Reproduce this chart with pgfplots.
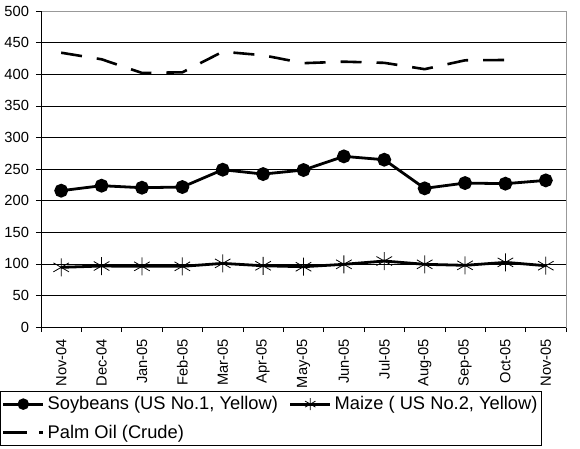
\documentclass[border=0pt]{standalone}
\usepackage{fontspec}
\setmainfont{Liberation Sans}
\usepackage{pgfplots}
\pgfplotsset{compat=1.18}
\begin{document}
\fontsize{14.5}{17}\selectfont
\begin{tikzpicture}
\path[use as bounding box] (0pt,0pt) rectangle (580pt,-448pt);
\begin{axis}[
  at={(41pt,-327pt)}, anchor=south west,
  scale only axis, width=525pt, height=316pt,
  xmin=-0.5, xmax=12.5, ymin=0, ymax=500,
  ytick={0,50,...,450},
  extra y ticks={500}, extra y tick style={grid=none},
  ymajorgrids, grid style={black, line width=0.6pt},
  axis line style={draw=black!40, line width=0.8pt},
  tick style={black, line width=0.6pt},
  tick align=outside, major tick length=5pt,
  ytick pos=left, xtick pos=bottom,
  /pgf/number format/assume math mode=true,
  ticklabel style={font=\fontsize{14.7}{17}\selectfont},
  yticklabel style={xshift=-2pt},
  xtick={-0.5,0.5,...,12.5}, xticklabels={},
  extra x ticks={0,1,...,12},
  extra x tick style={major tick length=0pt, grid=none},
  extra x tick labels={Nov-04,Dec-04,Jan-05,Feb-05,Mar-05,Apr-05,May-05,Jun-05,Jul-05,Aug-05,Sep-05,Oct-05,Nov-05},
  extra x tick style={xticklabel style={yshift=-7pt, rotate=90, anchor=east}},
  legend columns=2,
  legend cell align=left,
  legend style={at={(-0.0781,-0.2025)}, anchor=north west, draw=black, line width=0.8pt,
    font=\fontsize{18.3}{21}\selectfont, inner xsep=1.5pt, inner ysep=3pt, row sep=9pt,
    /tikz/every even column/.append style={column sep=9pt},
    /tikz/every odd column/.append style={column sep=1pt}},
]
\addplot[black, line width=2.8pt, mark=*, mark size=5.5pt, mark options={solid},
  legend image code/.code={\draw[black, line width=2.8pt] (0pt,0pt) -- (40pt,0pt); \fill[black] plot[mark=*, mark size=4.3pt] coordinates {(20pt,0pt)};}] coordinates {
(0,215.7) (1,223.6) (2,220.4) (3,221.5) (4,248.9) (5,242) (6,248.4) (7,270) (8,264.7) (9,219.4) (10,227.8) (11,226.8) (12,232)};
\addlegendentry{Soybeans (US No.1, Yellow)}
\addplot[black, line width=2.8pt, mark=asterisk, mark size=9pt, mark options={solid, line width=0.8pt, draw=black},
  legend image code/.code={\draw[black, line width=2.8pt] (0pt,0pt) -- (40pt,0pt); \draw[black, line width=0.7pt] plot[mark=asterisk, mark size=6pt] coordinates {(20pt,0pt)};}] coordinates {
(0,94.4) (1,96.5) (2,96) (3,96) (4,100.7) (5,96.9) (6,95.4) (7,99.2) (8,104.4) (9,99.2) (10,97.6) (11,102.3) (12,97)};
\addlegendentry{Maize ( US No.2, Yellow)\hspace{33pt}}
\addplot[black, line width=2.6pt, dash pattern=on 21pt off 15pt,
  legend image code/.code={\draw[black, line width=2.8pt, dash pattern=on 24pt off 12pt] (0pt,0pt) -- (40pt,0pt);}] coordinates {
(0,434) (1,423.6) (2,402) (3,403) (4,435.6) (5,430) (6,417.5) (7,419.8) (8,418) (9,408) (10,422) (11,422.5)};
\addlegendentry{Palm Oil (Crude)}
\draw[black, line width=0.8pt] (rel axis cs:0,1) -- (rel axis cs:0,0) -- (rel axis cs:1,0);
\end{axis}
\end{tikzpicture}
\end{document}
